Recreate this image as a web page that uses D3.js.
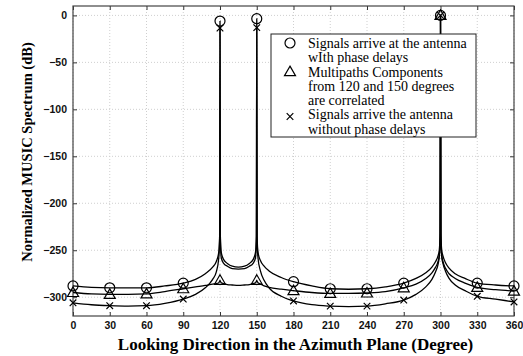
<!DOCTYPE html>
<html>
<head>
<meta charset="utf-8">
<script src="https://cdn.jsdelivr.net/npm/d3@7"></script>
<style>
body { margin: 0; background: #fff; }
.tick text { font-family: "Liberation Sans", Arial, sans-serif; font-weight: bold; font-size: 10.5px; fill: #111; }
</style>
</head>
<body>
<div id="chart"></div>
<script>
var angles = [0, 15, 30, 45, 60, 75, 90, 100, 108, 114, 117, 119, 119.7, 120, 120.3, 121, 123, 126, 130, 135, 140, 144, 147, 149, 149.7, 150, 150.3, 151, 153, 156, 160, 170, 180, 195, 210, 225, 240, 255, 270, 280, 288, 293, 296, 298, 299, 299.7, 300, 300.3, 301, 302, 304, 307, 312, 320, 330, 345, 360];

// signals arrive with phase delays (circles)
var withDelay = [-288, -289.5, -290, -290, -290, -288, -285, -281, -275, -268, -262, -252, -235, -6, -235, -252, -260, -264, -267, -268, -267, -264, -260, -252, -235, -3.5, -235, -252, -261, -267, -272, -279, -283.5, -288, -291, -291.5, -291, -289, -285, -280, -274, -268, -262, -256, -250, -232, 0, -232, -250, -256, -263, -269, -275, -280, -285, -287, -288];

// multipath components correlated (triangles)
var correlated = [-295, -296.5, -297, -297, -296.5, -294, -291, -289, -287.5, -286, -285.5, -284.5, -283, -282, -283, -284.5, -285.5, -286.5, -287, -287.5, -287, -286.5, -285.5, -284.5, -283, -282, -283, -284.5, -286, -288, -289.5, -291.5, -293, -295, -296, -296, -295.5, -294, -290, -286, -280, -274, -268, -262, -255, -235, 0, -235, -255, -262, -269, -275, -280, -285, -289.5, -292, -293.5];

// signals arrive without phase delays (crosses)
var noDelay = [-306, -308, -309, -309.5, -309, -306.5, -302, -297, -290, -281, -273, -258, -238, -13.5, -238, -258, -264, -267, -269.5, -270, -269.5, -267, -264, -258, -238, -13, -238, -258, -272, -282, -290, -299, -304, -308, -309.5, -310, -309.5, -307, -303, -297, -289, -281, -273, -265, -257, -238, 0, -238, -257, -264, -272, -280, -287, -293, -299, -302, -305];

var xTicks = [0, 30, 60, 90, 120, 150, 180, 210, 240, 270, 300, 330, 360];
var yTicks = [0, -50, -100, -150, -200, -250, -300];

var legendLines = [
  ["Signals arrive at the antenna", "wIth phase delays"],
  ["Multipaths Components", "from 120 and 150 degrees", "are correlated"],
  ["Signals arrive the antenna", "without phase delays"]
];

var margin = {top: 6, right: 9, bottom: 40, left: 73},
    width = 523 - margin.left - margin.right,
    height = 356 - margin.top - margin.bottom;

var svg = d3.select("#chart")
  .append("svg")
  .attr("width", 523)
  .attr("height", 356)
  .append("g")
  .attr("transform", "translate(" + margin.left + "," + margin.top + ")");

var x = d3.scaleLinear().domain([0, 360]).range([0, width]);
var y = d3.scaleLinear().domain([-320, 10]).range([height, 0]);

// dotted grid
svg.selectAll(".gx").data(xTicks).enter().append("line")
  .attr("x1", d => x(d)).attr("x2", d => x(d))
  .attr("y1", 0).attr("y2", height)
  .attr("stroke", "#cfcfcf").attr("stroke-dasharray", "1,2");
svg.selectAll(".gy").data(yTicks).enter().append("line")
  .attr("x1", 0).attr("x2", width)
  .attr("y1", d => y(d)).attr("y2", d => y(d))
  .attr("stroke", "#cfcfcf").attr("stroke-dasharray", "1,2");

// axes, ticks pointing inward
svg.append("g")
  .attr("transform", "translate(0," + height + ")")
  .call(d3.axisBottom(x).tickValues(xTicks).tickSize(-4).tickPadding(6).tickFormat(d3.format("d")))
  .call(g => g.select(".domain").remove());
svg.append("g")
  .call(d3.axisTop(x).tickValues(xTicks).tickSize(-4).tickFormat(""))
  .call(g => g.select(".domain").remove());
svg.append("g")
  .call(d3.axisLeft(y).tickValues(yTicks).tickSize(-4).tickPadding(6).tickFormat(d3.format("d")))
  .call(g => g.select(".domain").remove());
svg.append("g")
  .attr("transform", "translate(" + width + ",0)")
  .call(d3.axisRight(y).tickValues(yTicks).tickSize(-4).tickFormat(""))
  .call(g => g.select(".domain").remove());
svg.selectAll(".tick line").attr("stroke", "#333");

svg.append("rect")
  .attr("width", width).attr("height", height)
  .attr("fill", "none").attr("stroke", "#444").attr("stroke-width", 1.2);

// curves
var series = [
  {vals: withDelay, marker: "circle"},
  {vals: correlated, marker: "triangle"},
  {vals: noDelay, marker: "cross"}
];

var line = d3.line()
  .x(d => x(d[0]))
  .y(d => y(d[1]))
  .curve(d3.curveMonotoneX);

function drawMarker(g, type, cx, cy) {
  if (type === "circle") {
    g.append("circle").attr("cx", cx).attr("cy", cy).attr("r", 5)
      .attr("fill", "none").attr("stroke", "#000").attr("stroke-width", 1.2);
  } else if (type === "triangle") {
    g.append("path")
      .attr("d", "M" + cx + "," + (cy - 5.5) + "L" + (cx + 5.5) + "," + (cy + 4) + "L" + (cx - 5.5) + "," + (cy + 4) + "Z")
      .attr("fill", "none").attr("stroke", "#000").attr("stroke-width", 1.2);
  } else {
    var s = 3.3;
    g.append("path")
      .attr("d", "M" + (cx - s) + "," + (cy - s) + "L" + (cx + s) + "," + (cy + s) + "M" + (cx - s) + "," + (cy + s) + "L" + (cx + s) + "," + (cy - s))
      .attr("stroke", "#000").attr("stroke-width", 1.2);
  }
}

series.forEach(function(s) {
  var pts = angles.map((a, i) => [a, s.vals[i]]);
  svg.append("path")
    .datum(pts)
    .attr("d", line)
    .attr("fill", "none")
    .attr("stroke", "#000")
    .attr("stroke-width", 1.3);
  var mg = svg.append("g");
  pts.filter(p => p[0] % 30 === 0).forEach(function(p) {
    drawMarker(mg, s.marker, x(p[0]), y(p[1]));
  });
});

// legend
var lg = svg.append("g").attr("transform", "translate(" + (271 - margin.left) + "," + (34 - margin.top) + ")");
lg.append("rect").attr("width", 205).attr("height", 103)
  .attr("fill", "#fff").attr("stroke", "#222").attr("stroke-width", 1);
var lineH = 14.3, row = 0;
legendLines.forEach(function(block, i) {
  var y0 = 9 + row * lineH;
  drawMarker(lg, series[i].marker, 19, y0 + (i === 2 ? 2 : 0));
  block.forEach(function(t) {
    lg.append("text")
      .attr("x", 37).attr("y", 9 + row * lineH)
      .attr("dy", "0.35em")
      .style("font-family", "'Liberation Serif', 'Times New Roman', serif")
      .style("font-size", "14px")
      .text(t);
    row++;
  });
});

// axis titles
svg.append("text")
  .attr("x", width / 2 + 2).attr("y", height + 34)
  .attr("text-anchor", "middle")
  .style("font-family", "'Liberation Serif', 'Times New Roman', serif")
  .style("font-weight", "bold").style("font-size", "17px")
  .text("Looking Direction in the Azimuth Plane (Degree)");
svg.append("text")
  .attr("transform", "translate(" + (27 - margin.left) + "," + (152 - margin.top) + ")rotate(-90)")
  .attr("text-anchor", "middle").attr("dy", "0.35em")
  .style("font-family", "'Liberation Serif', 'Times New Roman', serif")
  .style("font-weight", "bold").style("font-size", "14.5px")
  .text("Normalized MUSIC Spectrum (dB)");
</script>
</body>
</html>
